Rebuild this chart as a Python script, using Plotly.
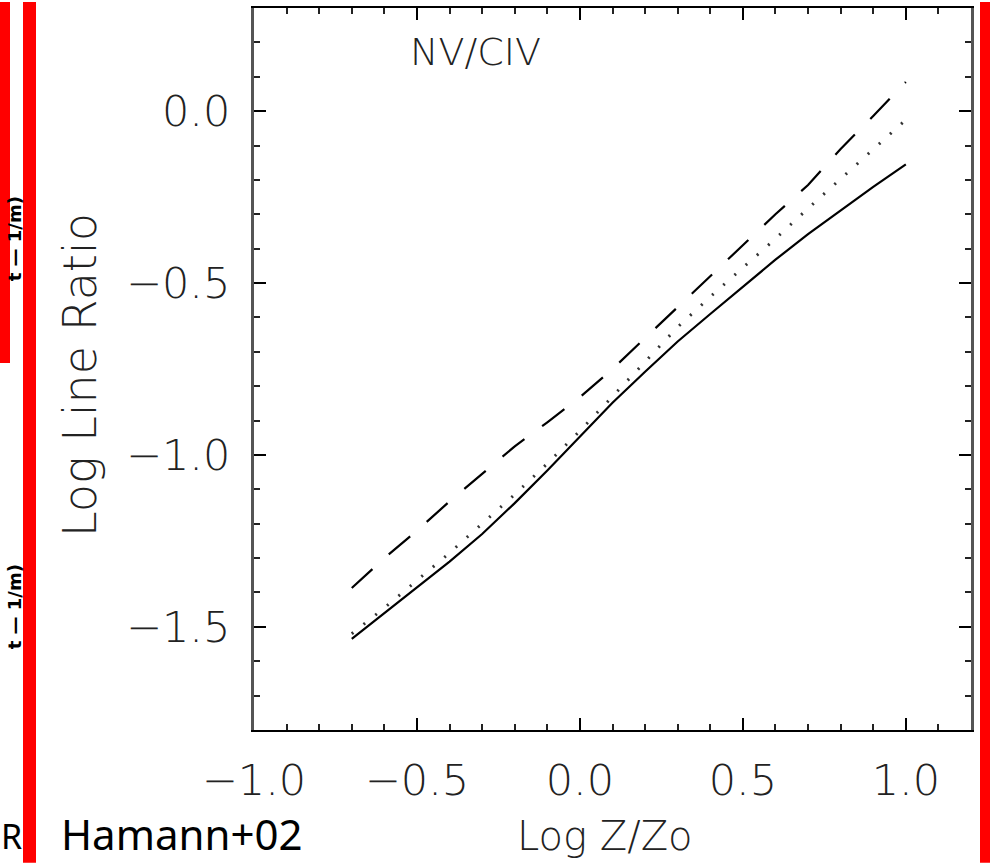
import plotly.graph_objects as go

# ---- data ----
log_z = [-0.7, -0.6, -0.5, -0.4, -0.3, -0.2, -0.1, 0.0, 0.1, 0.2, 0.3, 0.4, 0.5, 0.6, 0.7, 0.8, 0.9, 1.0]
solid_ratio = [-1.535, -1.46, -1.385, -1.31, -1.23, -1.14, -1.045, -0.945, -0.848, -0.758,
               -0.67, -0.59, -0.51, -0.432, -0.358, -0.288, -0.22, -0.155]
dotted_ratio = [-1.52, -1.445, -1.365, -1.285, -1.20, -1.115, -1.025, -0.93, -0.83, -0.728,
                -0.628, -0.54, -0.456, -0.371, -0.283, -0.197, -0.113, -0.025]
dashed_ratio = [-1.387, -1.30, -1.22, -1.135, -1.055, -0.975, -0.905, -0.832, -0.75, -0.66,
                -0.57, -0.482, -0.39, -0.30, -0.215, -0.11, -0.014, 0.085]

x_range = [-1.0, 1.2]
y_range = [-1.8, 0.3]

W, H = 990, 863
L, R, T, B = 254, 971, 6, 730


def px(x):
    return (x - L) / (R - L)


def py(y):
    return (B - y) / (B - T)


font_main = "DejaVu Sans"
text_col = "#222"

fig = go.Figure()
fig.add_trace(go.Scatter(x=log_z, y=solid_ratio, mode="lines",
                         line=dict(color="black", width=2.2), showlegend=False))
fig.add_trace(go.Scatter(x=log_z, y=dotted_ratio, mode="lines",
                         line=dict(color="#333", width=3, dash="2px,13px"), showlegend=False))
fig.add_trace(go.Scatter(x=log_z, y=dashed_ratio, mode="lines",
                         line=dict(color="black", width=2.2, dash="28px,22px"), showlegend=False))

axis_common = dict(
    ticks="inside", ticklen=12, tickwidth=2, tickcolor="black",
    showgrid=False, zeroline=False, showline=True, mirror="allticks",
    tickfont=dict(family=font_main, size=43, color=text_col, weight=200),
    tickformat=".1f",
)

fig.update_xaxes(range=x_range, tick0=0, dtick=0.5, linecolor="black", linewidth=2,
                 ticklabelstandoff=11,
                 minor=dict(dtick=0.1, ticks="inside", ticklen=6, tickwidth=2, tickcolor="#222"),
                 **axis_common)
fig.update_yaxes(range=y_range, tick0=0, dtick=0.5, linecolor="#555", linewidth=3,
                 ticklabelstandoff=12,
                 minor=dict(dtick=0.1, ticks="inside", ticklen=6, tickwidth=2, tickcolor="#222"),
                 **axis_common)

shapes = []
red = "#ff0000"
for x0, x1, y0, y1 in [(0, 10, 0, 362), (23, 36, 0, H), (980, 990, 0, H)]:
    shapes.append(dict(type="rect", xref="paper", yref="paper",
                       x0=px(x0), x1=px(x1), y0=py(y1), y1=py(y0),
                       fillcolor=red, line=dict(width=0), layer="above"))


def ann(text, x, y, size, family=font_main, color=text_col, angle=0, weight=200):
    return dict(text=text, xref="paper", yref="paper", x=px(x), y=py(y),
                xanchor="center", yanchor="middle", textangle=angle, showarrow=False,
                font=dict(family=family, size=size, color=color, weight=weight))


annotations = [
    ann("NV/CIV", 475, 50, 38),
    ann("Log Line Ratio", 80, 374, 46, angle=-90),
    ann("Log Z/Zo", 605, 836, 40),
    ann("Hamann+02", 182, 834, 42, family="Comic Sans MS, Noto Sans", color="black", weight=400),
    ann("R", 11, 836, 34, family="Noto Sans", color="black", weight=400),
    ann("t — 1/m)", 14, 238, 18, color="black", angle=-90, weight=700),
    ann("t — 1/m)", 14, 607, 18, color="black", angle=-90, weight=700),
]

fig.update_layout(
    width=W, height=H,
    margin=dict(l=L, r=W - R, t=T, b=H - B, pad=0),
    paper_bgcolor="white", plot_bgcolor="white",
    shapes=shapes, annotations=annotations,
    showlegend=False,
)

fig.write_html("out.html")
